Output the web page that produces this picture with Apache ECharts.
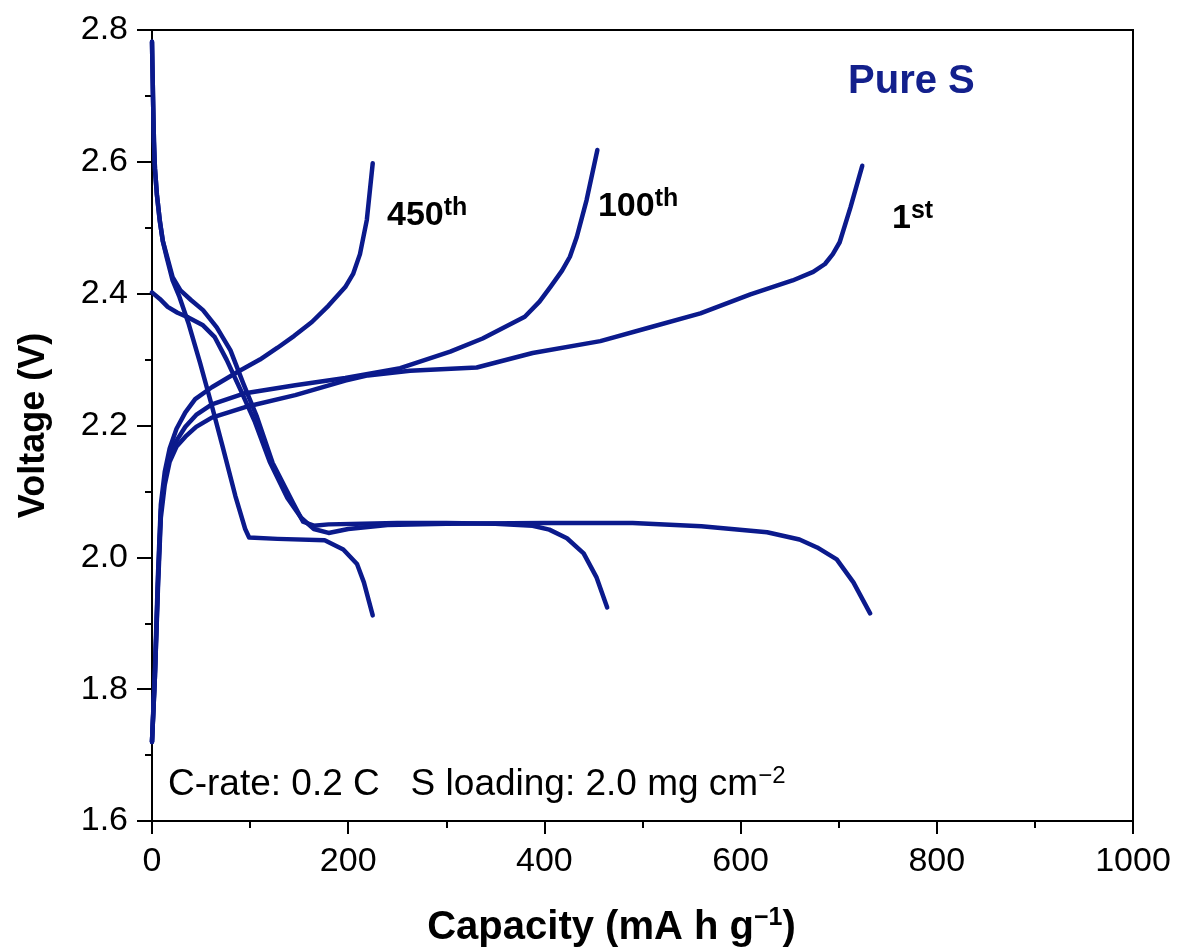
<!DOCTYPE html>
<html>
<head>
<meta charset="utf-8">
<script src="https://cdn.jsdelivr.net/npm/echarts@6/dist/echarts.min.js"></script>
<style>
html,body{margin:0;padding:0;background:#fff;}
#chart{width:1177px;height:948px;}
</style>
</head>
<body>
<div id="chart"></div>
<script>
// ---- data (capacity mA h g-1, voltage V) ----
var xTicks = [0, 200, 400, 600, 800, 1000];
var yTicks = [1.6, 1.8, 2.0, 2.2, 2.4, 2.6, 2.8];

var discharge1 = [[0,2.402],[8,2.392],[16,2.380],[26,2.371],[37,2.364],[52,2.352],[64,2.334],[76,2.30],[90,2.255],[105,2.205],[120,2.145],[138,2.09],[152,2.06],[165,2.043],[180,2.037],[200,2.043],[240,2.049],[300,2.051],[400,2.052],[490,2.052],[560,2.047],[627,2.038],[660,2.027],[678,2.015],[698,1.997],[715,1.962],[732,1.915]];
var charge1 = [[0,1.72],[3,1.82],[6,1.95],[9,2.06],[13,2.11],[18,2.145],[25,2.168],[34,2.183],[45,2.198],[61,2.212],[95,2.228],[146,2.246],[197,2.268],[220,2.276],[263,2.283],[331,2.288],[388,2.31],[457,2.328],[508,2.349],[559,2.37],[610,2.399],[653,2.42],[674,2.433],[686,2.445],[694,2.46],[701,2.478],[712,2.531],[724,2.594]];

var discharge100 = [[0,2.782],[1,2.70],[2,2.63],[3,2.59],[5,2.55],[8,2.51],[11,2.48],[15,2.458],[21,2.425],[29,2.405],[40,2.39],[52,2.375],[66,2.349],[80,2.314],[93,2.264],[107,2.213],[123,2.143],[144,2.082],[154,2.054],[165,2.048],[180,2.05],[250,2.052],[300,2.052],[350,2.051],[388,2.048],[405,2.042],[423,2.029],[440,2.006],[453,1.97],[464,1.924]];
var charge100 = [[0,1.72],[3,1.82],[6,1.96],[9,2.07],[13,2.12],[18,2.152],[25,2.177],[34,2.198],[45,2.216],[61,2.232],[95,2.249],[146,2.261],[197,2.272],[253,2.287],[304,2.312],[337,2.332],[380,2.365],[395,2.388],[406,2.41],[418,2.435],[426,2.456],[433,2.486],[443,2.542],[454,2.618]];

var discharge450 = [[0,2.782],[1,2.70],[2,2.63],[3,2.59],[5,2.55],[8,2.51],[11,2.48],[15,2.455],[21,2.42],[28,2.395],[37,2.356],[49,2.295],[61,2.23],[72,2.168],[85,2.093],[95,2.043],[99,2.03],[128,2.028],[176,2.026],[195,2.012],[209,1.99],[216,1.962],[225,1.912]];
var charge450 = [[0,1.72],[3,1.83],[6,1.97],[9,2.08],[13,2.13],[18,2.165],[25,2.195],[34,2.22],[44,2.24],[61,2.258],[88,2.282],[110,2.30],[128,2.318],[145,2.336],[163,2.357],[180,2.382],[197,2.41],[205,2.43],[212,2.46],[219,2.512],[225,2.598]];

var lineColor = '#0b1a8c';
var FONT = '"Liberation Sans", Arial, sans-serif';

var chart = echarts.init(document.getElementById('chart'), null, {renderer: 'canvas'});

function mk(name, data) {
  return {
    name: name, type: 'line', data: data, showSymbol: false, symbol: 'none',
    smooth: false,
    lineStyle: {color: lineColor, width: 4.5, cap: 'round', join: 'round'},
    emphasis: {disabled: true}, z: 3
  };
}

var option = {
  animation: false,
  backgroundColor: '#fff',
  grid: {left: 152, right: 44, top: 30, bottom: 127, outerBoundsMode: 'none', containLabel: false,
    show: true, borderColor: '#000', borderWidth: 2, backgroundColor: 'transparent'},
  xAxis: {
    type: 'value', min: xTicks[0], max: xTicks[xTicks.length-1], interval: xTicks[1]-xTicks[0],
    name: 'Capacity (mA h g{s|\u22121})', nameLocation: 'middle', nameGap: 85,
    nameTextStyle: {fontFamily: FONT, fontSize: 40, fontWeight: 'bold', color: '#000', lineHeight: 44, padding: [0, 62, 0, 0],
      rich: {s: {fontFamily: FONT, fontSize: 25, fontWeight: 'bold', color: '#000', verticalAlign: 'top', lineHeight: 26}}},
    axisLine: {show: true, onZero: false, lineStyle: {color: '#000', width: 2}},
    axisTick: {show: true, inside: false, length: 13, lineStyle: {color: '#000', width: 2}},
    minorTick: {show: true, splitNumber: 2, length: 7, lineStyle: {color: '#000', width: 2}},
    axisLabel: {fontFamily: FONT, fontSize: 34, color: '#000', margin: 24, formatter: function(v){return String(v);}},
    splitLine: {show: false}, minorSplitLine: {show: false}
  },
  yAxis: {
    type: 'value', min: yTicks[0], max: yTicks[yTicks.length-1], interval: 0.2,
    name: 'Voltage (V)', nameLocation: 'middle', nameGap: 100, nameRotate: 90,
    nameTextStyle: {fontFamily: FONT, fontSize: 36, fontWeight: 'bold', color: '#000'},
    axisLine: {show: true, onZero: false, lineStyle: {color: '#000', width: 2}},
    axisTick: {show: true, inside: false, length: 15, lineStyle: {color: '#000', width: 2}},
    minorTick: {show: true, splitNumber: 2, length: 7, lineStyle: {color: '#000', width: 2}},
    axisLabel: {fontFamily: FONT, fontSize: 34, color: '#000', margin: 24, formatter: function(v){return v.toFixed(1);}},
    splitLine: {show: false}, minorSplitLine: {show: false}
  },
  series: [
    mk('1st discharge', discharge1), mk('1st charge', charge1),
    mk('100th discharge', discharge100), mk('100th charge', charge100),
    mk('450th discharge', discharge450), mk('450th charge', charge450)
  ]
};
chart.setOption(option);

// annotations anchored in data coordinates
function px(c){ return chart.convertToPixel({gridIndex: 0}, c); }
var labelStyleMain = {fontFamily: FONT, fontSize: 34, fontWeight: 'bold', fill: '#000', lineHeight: 40};
var labelStyleSup = {fontFamily: FONT, fontSize: 25, fontWeight: 'bold', fill: '#000', verticalAlign: 'top', lineHeight: 26};
function cycLabel(anchor, num, sup) {
  var p = px(anchor);
  return {type: 'text', x: p[0], y: p[1], z: 10,
    style: {text: '{m|' + num + '}{s|' + sup + '}', align: 'left', verticalAlign: 'middle',
      rich: {m: labelStyleMain, s: labelStyleSup}}};
}
var pPure = px([709.5, 2.721]);
var pNote = px([16.3, 1.6543]);
chart.setOption({
  graphic: [
    cycLabel([239.6, 2.5178], '450', 'th'),
    cycLabel([454.6, 2.5314], '100', 'th'),
    cycLabel([754.3, 2.5132], '1', 'st'),
    {type: 'text', x: pPure[0], y: pPure[1], z: 10,
      style: {text: 'Pure S', fontFamily: FONT, fontSize: 40, fontWeight: 'bold', fill: '#13208c', align: 'left', verticalAlign: 'middle'}},
    {type: 'text', x: pNote[0], y: pNote[1], z: 10,
      style: {text: '{m|C-rate: 0.2 C   S loading: 2.0 mg cm}{s|\u22122}', align: 'left', verticalAlign: 'middle',
        rich: {m: {fontFamily: FONT, fontSize: 37, fill: '#000', lineHeight: 42},
               s: {fontFamily: FONT, fontSize: 24, fill: '#000', verticalAlign: 'top', lineHeight: 24}}}}
  ]
});
</script>
</body>
</html>
